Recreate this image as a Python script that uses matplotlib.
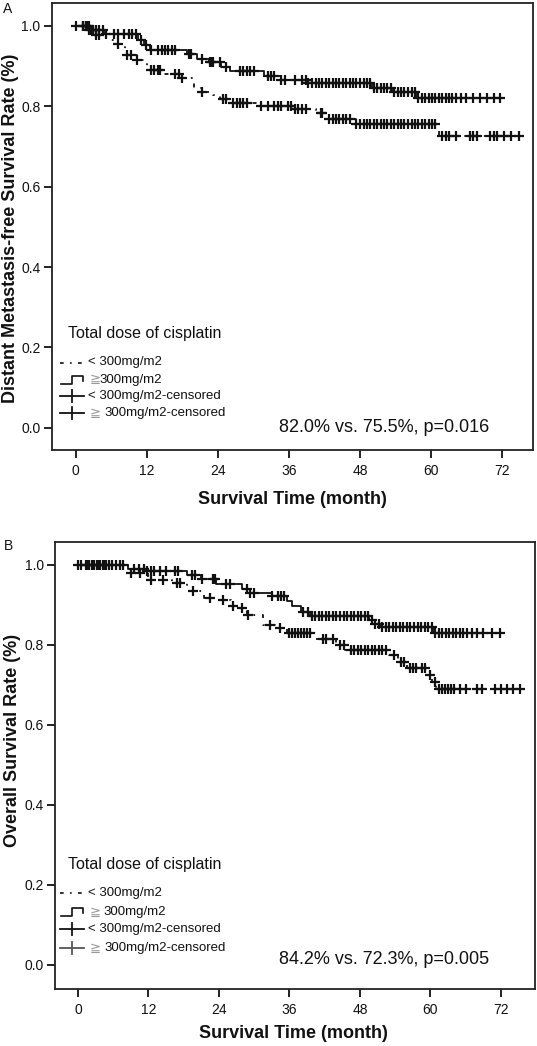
import numpy as np
import matplotlib
matplotlib.use('Agg')
import matplotlib.pyplot as plt

plt.rcParams['font.family'] = ['Liberation Sans', 'DejaVu Sans']

# ---------------- data: panel A (distant metastasis-free survival) ----------------
a_low_time = [0, 2.3, 3.5, 5.2, 7.2, 8.4, 10.4, 12.1, 14.5, 17.9, 20.0, 21.4, 23.1,
              24.3, 26.6, 30.5, 37.0, 40.5, 42.8, 47.4, 61.3]
a_low_surv = [1.0, 0.989, 0.977, 0.964, 0.956, 0.927, 0.915, 0.890, 0.880, 0.869, 0.846,
              0.836, 0.827, 0.817, 0.808, 0.800, 0.794, 0.782, 0.769, 0.757, 0.726]
a_low_end = 74.9
a_low_cens = [1.2, 1.7, 2.3, 2.9, 3.5, 4.0, 7.2, 8.7, 9.3, 10.4, 12.7, 13.3, 13.9, 14.2,
              16.8, 17.4, 17.9, 21.4, 24.9, 25.4, 26.6, 27.2, 27.8, 28.3, 28.9, 31.2,
              32.4, 33.5, 34.1, 34.7, 35.9, 36.4, 37.0, 37.6, 38.2, 38.8, 41.4, 41.6,
              42.8, 43.4, 44.0, 44.5, 45.1, 45.7, 46.3, 47.4, 48.0, 48.6, 49.2, 49.7,
              50.3, 50.9, 51.5, 52.1, 52.6, 53.2, 53.8, 54.4, 54.9, 55.5, 56.1, 56.7,
              57.3, 57.8, 58.4, 59.0, 59.6, 60.2, 60.7, 61.9, 62.5, 63.1, 64.2, 66.5,
              67.1, 67.7, 70.0, 70.6, 71.1, 72.3, 73.5, 74.9]

a_high_time = [0, 2.5, 5.0, 10.5, 11.5, 12.5, 18.8, 20.5, 22.5, 24.5, 26.0, 31.8, 34.7,
               39.3, 50.0, 53.5, 57.4]
a_high_surv = [1.0, 0.990, 0.980, 0.965, 0.953, 0.940, 0.929, 0.918, 0.910, 0.898, 0.887,
               0.875, 0.866, 0.858, 0.846, 0.835, 0.821]
a_high_end = 71.7
a_high_cens = [0, 1.2, 1.7, 2.0, 2.3, 2.6, 2.9, 3.5, 4.0, 4.6, 5.2, 6.4, 7.2, 8.1, 9.0,
               9.5, 10.1, 11.0, 11.9, 12.7, 13.9, 14.5, 15.0, 15.6, 16.2, 16.8, 19.1,
               19.4, 21.4, 22.6, 22.8, 23.1, 24.3, 25.4, 27.8, 28.3, 28.9, 29.5, 30.1,
               32.4, 33.0, 33.5, 34.7, 35.3, 37.0, 38.2, 38.8, 39.3, 39.9, 40.5, 41.1,
               41.6, 42.2, 42.8, 43.4, 44.0, 44.5, 45.1, 45.7, 46.3, 46.8, 47.4, 48.0,
               48.6, 49.2, 49.7, 50.3, 50.9, 51.5, 52.1, 52.6, 53.2, 53.8, 54.4, 54.9,
               55.5, 56.1, 56.7, 57.3, 57.8, 58.4, 59.0, 59.6, 60.2, 60.7, 61.3, 61.9,
               62.5, 63.1, 63.6, 64.2, 65.1, 65.9, 67.1, 68.2, 69.4, 70.6, 71.7]

# ---------------- data: panel B (overall survival) ----------------
b_low_time = [0, 8.5, 12.0, 16.0, 18.5, 21.5, 24.0, 26.0, 27.5, 28.8, 31.5, 33.5, 35.5,
              40.5, 44.0, 45.5, 53.0, 54.5, 56.0, 59.5, 60.3, 61.0]
b_low_surv = [1.0, 0.979, 0.961, 0.954, 0.934, 0.917, 0.911, 0.897, 0.891, 0.874, 0.849,
              0.842, 0.829, 0.814, 0.799, 0.786, 0.774, 0.757, 0.741, 0.723, 0.707, 0.689]
b_low_end = 75.3
b_low_cens = [0.5, 1.5, 2.5, 3.5, 4.5, 9.1, 10.5, 12.5, 14.5, 16.8, 17.3, 19.6, 22.5,
              24.7, 26.4, 27.9, 29.0, 32.7, 34.4, 36.0, 36.5, 37.0, 37.5, 38.0, 38.5,
              39.0, 39.5, 41.7, 42.3, 43.4, 44.6, 45.2, 46.4, 47.0, 47.6, 48.2, 48.8,
              49.4, 50.0, 50.6, 51.2, 51.8, 52.4, 53.8, 55.0, 55.5, 56.5, 57.0, 57.5,
              58.5, 59.0, 60.0, 60.8, 61.5, 62.0, 62.5, 63.0, 63.5, 64.0, 65.0, 66.0,
              68.0, 68.7, 71.0, 72.0, 73.0, 74.0, 75.3]

b_high_time = [0, 8.5, 11.5, 18.5, 21.0, 23.5, 28.0, 28.8, 33.0, 35.5, 36.5, 38.0, 39.5,
               49.5, 50.5, 51.5, 60.6]
b_high_surv = [1.0, 0.990, 0.983, 0.974, 0.964, 0.952, 0.940, 0.930, 0.921, 0.910, 0.897,
               0.882, 0.871, 0.862, 0.852, 0.843, 0.830]
b_high_end = 71.9
b_high_cens = [0, 1.3, 1.8, 2.3, 2.8, 3.3, 3.8, 4.2, 4.7, 5.2, 5.8, 6.4, 7.1, 7.7, 9.5,
               10.3, 11.2, 11.8, 12.4, 13.0, 14.0, 15.0, 16.5, 17.0, 19.4, 20.0, 21.1,
               22.9, 23.3, 25.2, 25.8, 28.7, 29.3, 29.9, 33.0, 34.0, 34.5, 35.0, 38.3,
               39.2, 39.8, 40.4, 41.0, 41.6, 42.2, 42.8, 43.4, 44.0, 44.6, 45.2, 45.8,
               46.4, 47.0, 47.6, 48.2, 48.8, 49.4, 50.0, 50.6, 51.2, 51.8, 52.4, 53.0,
               53.6, 54.2, 54.8, 55.4, 56.0, 56.6, 57.2, 57.8, 58.4, 59.0, 59.6, 60.2,
               60.8, 61.4, 62.0, 62.6, 63.2, 63.8, 64.4, 65.0, 65.6, 66.2, 67.0, 68.0,
               69.0, 70.5, 71.9]

x_ticks = [0, 12, 24, 36, 48, 60, 72]
y_ticks = [0.0, 0.2, 0.4, 0.6, 0.8, 1.0]
legend_title = "Total dose of cisplatin"
x_label = "Survival Time (month)"
a_ylabel = "Distant Metastasis-free Survival Rate (%)"
b_ylabel = "Overall Survival Rate (%)"
a_note = "82.0% vs. 75.5%, p=0.016"
b_note = "84.2% vs. 72.3%, p=0.005"

# ---------------- figure ----------------
W, H = 537, 1046
fig = plt.figure(figsize=(W / 100, H / 100), dpi=100)

DASH = (0, (2.2, 3.8, 1.0, 3.8))
INK = '#111111'


def px_axes(l, t, r, b):
    return fig.add_axes([l / W, 1 - b / H, (r - l) / W, (b - t) / H])


def km(ax, times, surv, end, cens, dashed):
    t = np.asarray(times, float)
    s = np.asarray(surv, float)
    xs = np.append(t, end)
    ys = np.append(s, s[-1])
    ax.step(xs, ys, where='post', color=INK, lw=1.3,
            linestyle=DASH if dashed else '-')
    c = np.asarray(cens, float)
    idx = np.searchsorted(t, c, side='right') - 1
    ax.plot(c, s[idx], linestyle='none', marker='+', ms=7.5, mew=1.6, color=INK)


def style(ax, xlim, ylim):
    ax.set_xlim(*xlim)
    ax.set_ylim(*ylim)
    ax.set_xticks(x_ticks)
    ax.set_yticks(y_ticks)
    ax.set_yticklabels([f"{v:.1f}" for v in y_ticks])
    ax.tick_params(direction='out', length=6, width=1.3, labelsize=10, pad=2,
                   colors='#111111', top=False, right=False)
    ax.tick_params(axis='x', pad=4)
    for sp in ax.spines.values():
        sp.set_linewidth(1.3)
        sp.set_color('#222222')


def legend(ax, l_px, w_px, h_px, b_px, x_title, y_title, ys, x_txt,
           label2_rest, x_rest2, x_rest4, grey4):
    tr = ax.transAxes

    def fx(px):
        return (px - l_px) / w_px

    def fy(py):
        return (b_px - py) / h_px

    def dy(d):
        return d / h_px

    ax.text(fx(x_title), fy(y_title), legend_title, transform=tr, fontsize=11.5,
            va='center', ha='left', color='#111111')
    # entry 1: dashed line
    y1 = fy(ys[0])
    ax.plot([fx(60), fx(84)], [y1, y1], transform=tr, color=INK, lw=1.2,
            linestyle=DASH, clip_on=False)
    ax.text(fx(x_txt), y1, "< 300mg/m2", transform=tr, fontsize=9.5, va='center',
            ha='left', color='#111111')
    # entry 2: step glyph
    y2 = fy(ys[1])
    ax.plot([fx(61), fx(72), fx(72), fx(83), fx(83)],
            [y2 - dy(4), y2 - dy(4), y2 + dy(4), y2 + dy(4), y2 - dy(1)],
            transform=tr, color=INK, lw=1.2, clip_on=False)
    ax.text(fx(x_txt + 2), y2, "\u2267", transform=tr, fontsize=9.5, va='center',
            ha='left', color='#999999', family=['DejaVu Sans'])
    ax.text(fx(x_rest2), y2, label2_rest, transform=tr, fontsize=9.5, va='center',
            ha='left', color='#111111')
    # entry 3 / 4: censored marks
    for k, (yy, txt) in enumerate([(ys[2], "< 300mg/m2-censored"),
                                   (ys[3], "300mg/m2-censored")]):
        y = fy(yy)
        col = '#555555' if (k == 1 and grey4) else INK
        ax.plot([fx(60), fx(84)], [y, y], transform=tr, color=col, lw=1.3,
                clip_on=False)
        ax.plot([fx(72), fx(72)], [y - dy(6), y + dy(6)], transform=tr, color=col,
                lw=1.3, clip_on=False)
        if k == 0:
            ax.text(fx(x_txt), y, txt, transform=tr, fontsize=9.5, va='center',
                    ha='left', color='#111111')
        else:
            ax.text(fx(x_txt + 2), y, "\u2267", transform=tr, fontsize=9.5,
                    va='center', ha='left', color='#999999', family=['DejaVu Sans'])
            ax.text(fx(x_rest4), y, txt, transform=tr, fontsize=9.5, va='center',
                    ha='left', color='#111111')


# ---- Panel A ----
A = dict(l=51.7, t=3.3, r=533.0, b=450.0)
axA = px_axes(A['l'], A['t'], A['r'], A['b'])
km(axA, a_low_time, a_low_surv, a_low_end, a_low_cens, True)
km(axA, a_high_time, a_high_surv, a_high_end, a_high_cens, False)
style(axA, (-4.05, 77.2), (-0.055, 1.056))
legend(axA, A['l'], A['r'] - A['l'], A['b'] - A['t'], A['b'],
       68, 333.6, [362.5, 379.5, 396.0, 413.0], 88,
       "300mg/m2", 99.5, 104.5, False)
axA.text((279 - A['l']) / (A['r'] - A['l']), (A['b'] - 428) / (A['b'] - A['t']),
         a_note, transform=axA.transAxes, fontsize=13, va='center', ha='left',
         color='#111111')

# ---- Panel B ----
B = dict(l=54.8, t=542.3, r=535.0, b=989.0)
axB = px_axes(B['l'], B['t'], B['r'], B['b'])
km(axB, b_low_time, b_low_surv, b_low_end, b_low_cens, True)
km(axB, b_high_time, b_high_surv, b_high_end, b_high_cens, False)
style(axB, (-3.95, 77.8), (-0.061, 1.056))
legend(axB, B['l'], B['r'] - B['l'], B['b'] - B['t'], B['b'],
       68, 865, [893, 912, 929, 948], 88,
       "300mg/m2", 103, 104.5, True)
axB.text((279 - B['l']) / (B['r'] - B['l']), (B['b'] - 960) / (B['b'] - B['t']),
         b_note, transform=axB.transAxes, fontsize=13, va='center', ha='left',
         color='#111111')

# ---- labels ----
fig.text(292.5 / W, 1 - 500 / H, x_label, ha='center', va='center', fontsize=13,
         fontweight='bold', color='#111111')
fig.text(293 / W, 1 - 1033 / H, x_label, ha='center', va='center', fontsize=13,
         fontweight='bold', color='#111111')
fig.text(11 / W, 1 - 228 / H, a_ylabel, ha='center', va='center', rotation=90,
         fontsize=13, fontweight='bold', color='#111111')
fig.text(13 / W, 1 - 740 / H, b_ylabel, ha='center', va='center', rotation=90,
         fontsize=13, fontweight='bold', color='#111111')
fig.text(8 / W, 1 - 9 / H, "A", ha='center', va='center', fontsize=10,
         color='#111111')
fig.text(8.5 / W, 1 - 546 / H, "B", ha='center', va='center', fontsize=10,
         color='#111111')

fig.savefig('out.png', dpi=100, facecolor='white')
